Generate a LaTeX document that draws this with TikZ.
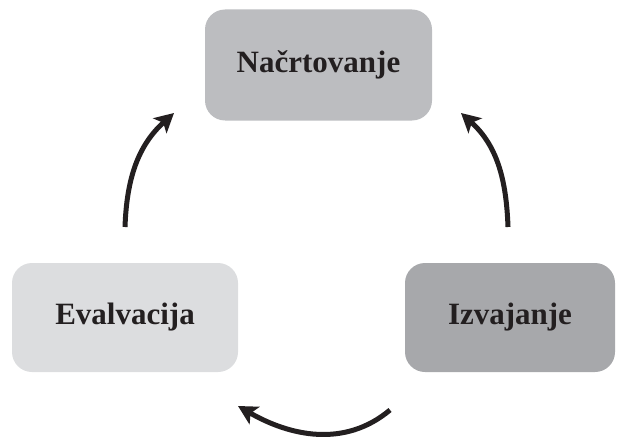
\documentclass[tikz,border=0pt]{standalone}
\usepackage{fontspec}
\setmainfont{Liberation Serif}
\usetikzlibrary{arrows.meta}
\definecolor{txt}{HTML}{231F20}
\definecolor{fillA}{HTML}{BCBDC0}
\definecolor{fillB}{HTML}{DCDDDF}
\definecolor{fillC}{HTML}{A7A8AB}
\begin{document}
\begin{tikzpicture}[x=1pt,y=1pt,
  stage/.style={rounded corners=20pt, inner sep=0pt, text=txt,
    font=\fontsize{31}{34}\selectfont\bfseries},
  cyc/.style={line width=5pt, draw=txt,
    -{Stealth[length=19pt,width=20pt,inset=4.5pt]}}]
  \useasboundingbox (0,0) rectangle (623,440);
  % the three stages of the cycle
  \node[stage, fill=fillA, minimum width=227pt, minimum height=111pt] (plan) at (318.5,375) {Načrtovanje};
  \node[stage, fill=fillB, minimum width=226pt, minimum height=109pt] (eval) at (125,122.5) {Evalvacija};
  \node[stage, fill=fillC, minimum width=210pt, minimum height=109pt] (impl) at (510,122.5) {Izvajanje};
  % free-standing curved arrows between the stages
  \coordinate (lt) at (125,213);
  \coordinate (lh) at (174,327);
  \coordinate (rt) at (508,213);
  \coordinate (rh) at (461,327);
  \coordinate (bt) at (390,30);
  \coordinate (bh) at (238,34);
  \draw[cyc] (lt) to[out=88, in=-138] (lh);
  \draw[cyc] (rt) to[out=92, in=-42] (rh);
  \draw[cyc] (bt) to[out=-140, in=-30] (bh);
\end{tikzpicture}
\end{document}
